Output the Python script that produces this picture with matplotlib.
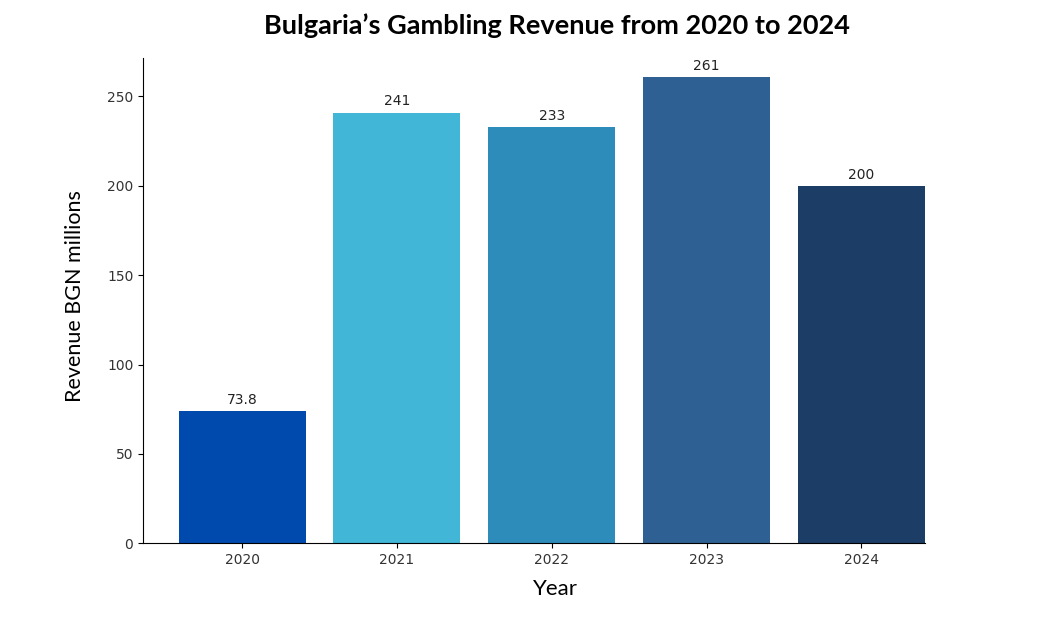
from matplotlib import pyplot as plt

years = ['2020', '2021', '2022', '2023', '2024']
revenue = [73.8, 241, 233, 261, 200]
value_labels = ['73.8', '241', '233', '261', '200']
bar_colors = ['#004aad', '#41b6d6', '#2e8cba', '#2e6094', '#1b3d66']

label_font = ['Lato', 'DejaVu Sans']

fig = plt.figure(figsize=(10.38, 6.17), dpi=100)
ax = fig.add_axes([0.1378, 0.1194, 0.7533, 0.7866])

x = range(len(years))
bars = ax.bar(x, revenue, width=0.82, color=bar_colors)
for b, lab in zip(bars, value_labels):
    ax.annotate(lab, (b.get_x() + b.get_width() / 2, b.get_height()),
                xytext=(0, 3), textcoords='offset points',
                ha='center', va='bottom', fontsize=10, color='#222222')

ax.set_xticks(list(x))
ax.set_xticklabels(years)
ax.set_xlim(-0.64, 4.41)
ax.set_ylim(0, 271.5)
ax.set_yticks([0, 50, 100, 150, 200, 250])
ax.tick_params(labelsize=10, labelcolor='#333333')
ax.spines['top'].set_visible(False)
ax.spines['right'].set_visible(False)

ax.set_xlabel('Year', fontsize=16, family=label_font)
ax.xaxis.set_label_coords(0.527, -0.074)
ax.set_ylabel('Revenue BGN millions', fontsize=15.5, family=label_font)
ax.yaxis.set_label_coords(-0.074, 0.51)

fig.text(0.537, 0.958, 'Bulgaria’s Gambling Revenue from 2020 to 2024',
         ha='center', va='center', fontsize=19.5, fontweight='bold',
         family=label_font)

fig.savefig('out.png', dpi=100)
